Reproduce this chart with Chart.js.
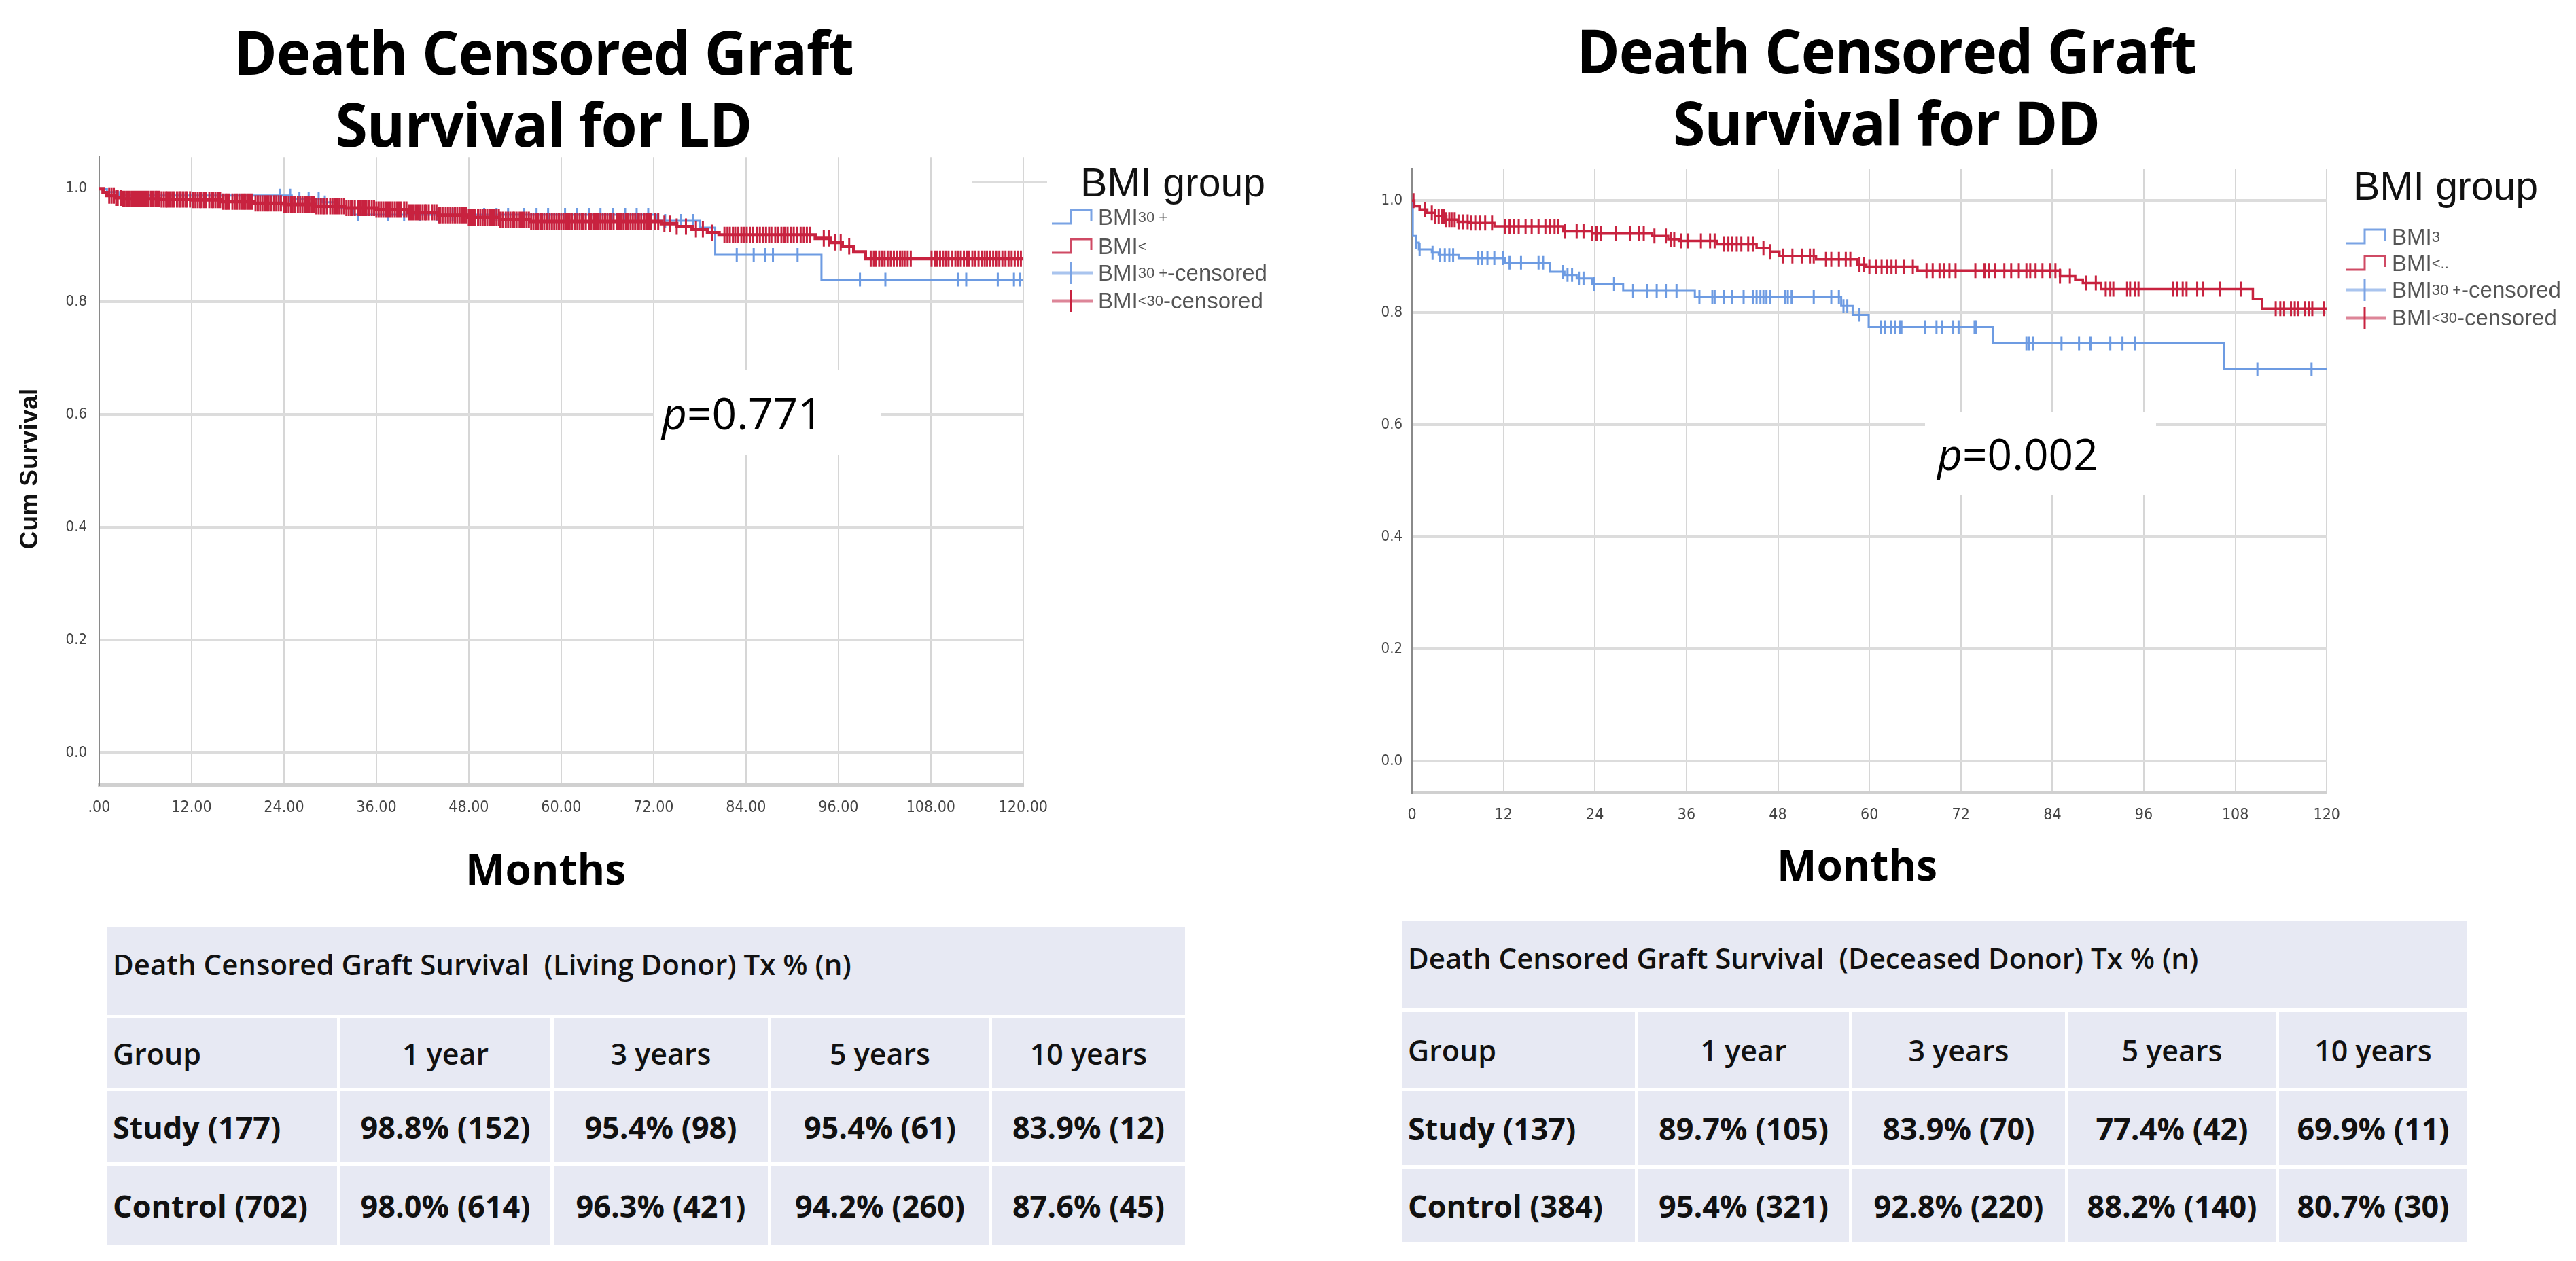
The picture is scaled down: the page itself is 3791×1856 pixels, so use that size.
<!DOCTYPE html>
<html>
<head>
<meta charset="utf-8">
<title>Death Censored Graft Survival by BMI group</title>
<script src="https://cdn.jsdelivr.net/npm/chart.js"></script>
<style>
    body {
        margin: 0;
        width: 3791px;
        height: 1856px;
        position: relative;
        overflow: hidden;
        background: #fff;
        font-family: 'Open Sans', sans-serif;
        color: #000;
    }
    canvas { position: absolute; }
    .title {
        position: absolute;
        width: 1100px;
        font-weight: 700;
        font-size: 90px;
        line-height: 106px;
        text-align: center;
        white-space: nowrap;
        letter-spacing: -1px;
        transform: scaleX(0.955);
    }
    .months {
        position: absolute;
        width: 400px;
        font-weight: 700;
        font-size: 62px;
        line-height: 62px;
        text-align: center;
    }
    .pbox {
        position: absolute;
        background: #fff;
        display: flex;
        align-items: center;
        font-size: 64px;
        white-space: nowrap;
    }
    .ytitle {
        position: absolute;
        width: 320px;
        height: 44px;
        line-height: 44px;
        text-align: center;
        font-family: 'Liberation Sans', Arial, sans-serif;
        font-weight: 700;
        font-size: 37px;
        color: #111;
        transform: rotate(-90deg);
    }
    .lgtitle {
        position: absolute;
        font-family: 'Liberation Sans', Arial, sans-serif;
        font-size: 59px;
        line-height: 59px;
        color: #111;
        white-space: nowrap;
    }
    .lgitem {
        position: absolute;
        height: 40px;
        display: flex;
        align-items: center;
        font-family: 'Liberation Sans', Arial, sans-serif;
        font-size: 33px;
        color: #555;
        white-space: nowrap;
    }
    .lgitem svg { margin-right: 8px; }
    .lgitem small { font-size: 22px; }
    .tbl {
        position: absolute;
        display: grid;
        gap: 5px;
        background: #fff;
    }
    .tbl div {
        background: #e7e9f3;
        display: flex;
        align-items: center;
        color: #111;
        white-space: pre;
    }
    .tbl .cap { grid-column: 1 / span 5; align-items: flex-start; padding: 25px 0 0 8px; font-size: 42px; font-weight: 600; }
    .tbl .hd { font-size: 43px; font-weight: 600; }
    .tbl .bd { font-size: 45px; font-weight: 700; }
    .tbl .c0 { justify-content: flex-start; padding-left: 8px; }
    .tbl .cn { justify-content: center; }
</style>
</head>
<body>

<div class="title" style="left:250px; top:22px;">Death Censored Graft<br>Survival for LD</div>
<div class="title" style="left:2226px; top:20px;">Death Censored Graft<br>Survival for DD</div>

<canvas id="ldChart" width="1562" height="1040" style="left:0px; top:200px;"></canvas>
<canvas id="ddChart" width="1534" height="1050" style="left:1930px; top:200px;"></canvas>

<div class="ytitle" style="left:-117px; top:668px;">Cum Survival</div>

<div class="pbox" style="left:962px; top:545px; width:323px; height:124px; padding-left:12px;"><i>p</i>=0.771</div>
<div class="pbox" style="left:2833px; top:606px; width:322px; height:122px; padding-left:18px;"><i>p</i>=0.002</div>

<div style="position:absolute; left:1430px; top:266px; width:111px; height:4px; background:#dcdcdc;"></div>

<div class="lgtitle" style="left:1590px; top:240px;">BMI group</div>
<div class="lgitem" style="left:1548px; top:300px;">
    <svg width="60" height="34"><polyline points="0,26 28,26 28,6 58,6 58,22" fill="none" stroke="#7aa3e4" stroke-width="3"/></svg>BMI<small>30 +</small></div>
<div class="lgitem" style="left:1548px; top:343px;">
    <svg width="60" height="34"><polyline points="0,26 28,26 28,6 58,6 58,22" fill="none" stroke="#cf4a64" stroke-width="3"/></svg>BMI<small>&lt;</small></div>
<div class="lgitem" style="left:1548px; top:382px;">
    <svg width="60" height="36"><line x1="0" y1="18" x2="60" y2="18" stroke="#a9c4ee" stroke-width="5"/><line x1="28" y1="2" x2="28" y2="34" stroke="#7aa3e4" stroke-width="3"/></svg>BMI<small>30 +</small>-censored</div>
<div class="lgitem" style="left:1548px; top:423px;">
    <svg width="60" height="36"><line x1="0" y1="18" x2="60" y2="18" stroke="#dd8598" stroke-width="5"/><line x1="28" y1="2" x2="28" y2="34" stroke="#c8223f" stroke-width="3"/></svg>BMI<small>&lt;30</small>-censored</div>

<div class="lgtitle" style="left:3463px; top:245px;">BMI group</div>
<div class="lgitem" style="left:3452px; top:329px;">
    <svg width="60" height="34"><polyline points="0,26 28,26 28,6 58,6 58,22" fill="none" stroke="#7aa3e4" stroke-width="3"/></svg>BMI<small>3</small></div>
<div class="lgitem" style="left:3452px; top:368px;">
    <svg width="60" height="34"><polyline points="0,26 28,26 28,6 58,6 58,22" fill="none" stroke="#cf4a64" stroke-width="3"/></svg>BMI<small>&lt;..</small></div>
<div class="lgitem" style="left:3452px; top:407px;">
    <svg width="60" height="36"><line x1="0" y1="18" x2="60" y2="18" stroke="#a9c4ee" stroke-width="5"/><line x1="28" y1="2" x2="28" y2="34" stroke="#7aa3e4" stroke-width="3"/></svg>BMI<small>30 +</small>-censored</div>
<div class="lgitem" style="left:3452px; top:448px;">
    <svg width="60" height="36"><line x1="0" y1="18" x2="60" y2="18" stroke="#dd8598" stroke-width="5"/><line x1="28" y1="2" x2="28" y2="34" stroke="#c8223f" stroke-width="3"/></svg>BMI<small>&lt;30</small>-censored</div>

<div class="months" style="left:603px; top:1247px;">Months</div>
<div class="months" style="left:2533px; top:1241px;">Months</div>

<div class="tbl" id="ldTable" style="left:158px; top:1365px; grid-template-columns:338px 309px 315px 320px 284px; grid-template-rows:129px 102px 105px 116px;"></div>
<div class="tbl" id="ddTable" style="left:2064px; top:1356px; grid-template-columns:342px 310px 313px 305px 277px; grid-template-rows:128px 112px 109px 108px;"></div>

<script>
    // axes
    const xTickValues = [0, 12, 24, 36, 48, 60, 72, 84, 96, 108, 120];
    const ldXTickLabels = ['.00', '12.00', '24.00', '36.00', '48.00', '60.00', '72.00', '84.00', '96.00', '108.00', '120.00'];
    const ddXTickLabels = ['0', '12', '24', '36', '48', '60', '72', '84', '96', '108', '120'];
    const yTickValues = [0, 0.2, 0.4, 0.6, 0.8, 1.0];
    const yTickLabels = ['0.0', '0.2', '0.4', '0.6', '0.8', '1.0'];

    // living donor, BMI 30+ (study)
    const ldStudyTime = [0, 1, 2.5, 25, 29, 31, 33, 72.5, 78, 80, 93.8, 120];
    const ldStudySurv = [1, 0.994, 0.988, 0.982, 0.976, 0.966, 0.954, 0.943, 0.931, 0.883, 0.839, 0.839];
    const ldStudyCensored = [23.5, 24.8, 26.0, 27.2, 28.5, 29.3, 33.6, 37.5, 39.6, 41.7, 43.8, 45.9, 50.0, 51.6,
        53.1, 55.2, 56.8, 58.3, 60.5, 62.0, 63.6, 65.1, 66.7, 68.3, 69.8, 71.3, 73.5, 75.5, 77.1, 82.8, 85.0,
        86.5, 87.5, 90.7, 98.8, 102.1, 111.5, 112.6, 116.7, 118.8, 119.6];

    // living donor, BMI <30 (control)
    const ldCtrlTime = [0, 0.5, 1, 2, 3, 8, 12, 16, 20, 24, 28, 32, 36, 40, 44, 48, 52, 56, 73, 75, 77, 79, 80.5,
        93, 95, 96.5, 98, 99.5, 120];
    const ldCtrlSurv = [1, 0.993, 0.988, 0.984, 0.982, 0.981, 0.980, 0.977, 0.974, 0.972, 0.969, 0.966, 0.963,
        0.958, 0.953, 0.949, 0.945, 0.942, 0.938, 0.933, 0.928, 0.922, 0.918, 0.912, 0.905, 0.898, 0.888, 0.876, 0.876];
    const ldCtrlCensored = [1.3, 1.6, 1.9, 2.2, 2.4, 2.8, 3.1, 3.3, 3.6, 3.9, 4.2, 4.5, 4.8, 5.0, 5.3, 5.6, 5.8,
        6.1, 6.4, 6.7, 7.0, 7.3, 7.5, 7.8, 8.1, 8.4, 8.7, 8.9, 9.2, 9.5, 9.7, 10.1, 10.4, 10.6, 10.9, 11.2, 11.4,
        11.8, 12.2, 12.5, 12.8, 13.1, 13.3, 13.6, 13.9, 14.3, 14.6, 14.8, 15.1, 15.4, 15.7, 16.1, 16.4, 16.6, 16.9,
        17.3, 17.6, 17.9, 18.2, 18.5, 18.8, 19.0, 19.3, 19.6, 19.9, 20.3, 20.6, 20.9, 21.2, 21.5, 21.8, 22.0, 22.3,
        22.7, 23.0, 23.3, 23.6, 24.0, 24.3, 24.6, 24.9, 25.1, 25.4, 25.8, 26.1, 26.4, 26.7, 27.0, 27.3, 27.6, 27.9,
        28.2, 28.5, 28.8, 29.1, 29.3, 29.6, 30.0, 30.3, 30.6, 30.9, 31.2, 31.5, 31.8, 32.1, 32.4, 32.7, 32.9, 33.2,
        33.6, 33.9, 34.2, 34.5, 34.7, 35.0, 35.4, 35.7, 36.0, 36.3, 36.6, 36.9, 37.2, 37.5, 37.8, 38.1, 38.4, 38.7,
        38.9, 39.2, 39.6, 39.9, 40.2, 40.5, 40.8, 41.1, 41.4, 41.7, 42.0, 42.3, 42.5, 42.8, 43.2, 43.5, 43.8, 44.1,
        44.3, 44.6, 45.0, 45.3, 45.6, 45.9, 46.2, 46.5, 46.8, 47.1, 47.4, 47.7, 48.0, 48.3, 48.5, 48.8, 49.2, 49.5,
        49.8, 50.1, 50.4, 50.7, 51.0, 51.3, 51.6, 51.9, 52.1, 52.4, 52.8, 53.1, 53.4, 53.7, 53.9, 54.2, 54.6, 54.9,
        55.2, 55.5, 55.8, 56.1, 56.4, 56.7, 57.0, 57.3, 57.5, 57.8, 58.2, 58.5, 58.8, 59.1, 59.4, 59.7, 60.0, 60.3,
        60.6, 60.9, 61.1, 61.4, 61.8, 62.1, 62.4, 62.7, 62.9, 63.2, 63.6, 63.9, 64.2, 64.5, 64.8, 65.1, 65.4, 65.7,
        66.0, 66.3, 66.5, 66.8, 67.2, 67.5, 67.8, 68.1, 68.4, 68.7, 69.0, 69.3, 69.6, 69.9, 70.1, 70.4, 70.8, 71.1,
        71.4, 71.7, 72.2, 72.6, 73.4, 74.1, 75.0, 76.2, 77.5, 78.4, 79.6, 81.2, 81.6, 81.9, 82.3, 82.6, 83.0, 83.4,
        83.7, 84.1, 84.5, 84.9, 85.4, 85.8, 86.2, 86.6, 87.0, 87.3, 87.8, 88.2, 88.6, 89.0, 89.4, 89.8, 90.2, 90.6,
        91.1, 91.5, 91.9, 92.3, 94.1, 94.8, 95.6, 96.3, 97.4, 100.2, 100.6, 100.9, 101.3, 101.7, 102.0, 102.4,
        102.8, 103.2, 103.6, 104.0, 104.3, 104.6, 105.0, 105.4, 108.1, 108.5, 108.8, 109.2, 109.6, 110.0, 110.3,
        110.8, 111.2, 111.5, 111.9, 112.3, 112.7, 113.0, 113.4, 113.8, 114.2, 114.6, 115.0, 115.3, 115.7, 116.1,
        116.5, 116.9, 117.3, 117.7, 118.1, 118.5, 118.9, 119.3, 119.7];

    // deceased donor, BMI 30+ (study)
    const ddStudyTime = [0, 0.1, 0.5, 0.9, 2.6, 3.5, 6.1, 12.2, 18.1, 20.0, 21.6, 23.6, 27.7, 37.1, 56.3, 57.8,
        59.9, 76.2, 106.5, 120];
    const ddStudySurv = [1, 0.937, 0.925, 0.913, 0.907, 0.903, 0.897, 0.889, 0.873, 0.867, 0.861, 0.851, 0.839,
        0.828, 0.812, 0.796, 0.774, 0.745, 0.699, 0.699];
    const ddStudyCensored = [0.5, 1.0, 2.7, 3.7, 4.3, 4.9, 5.4, 8.7, 9.2, 9.9, 10.8, 11.9, 12.8, 14.3, 16.6, 17.2,
        19.8, 20.4, 21.0, 21.9, 22.5, 23.9, 26.5, 29.0, 30.8, 32.1, 33.3, 34.7, 37.7, 39.4, 39.7, 40.9, 42.0, 43.5,
        44.7, 45.2, 45.7, 46.1, 46.5, 47.0, 48.9, 49.3, 49.8, 52.7, 55.0, 56.0, 56.6, 57.1, 58.7, 61.5, 62.0, 62.8,
        63.4, 64.0, 64.2, 67.3, 68.8, 69.5, 71.0, 71.7, 73.8, 74.0, 80.6, 80.9, 81.5, 85.2, 87.5, 89.0, 91.6, 93.2,
        94.8, 110.9, 118.0];

    // deceased donor, BMI <30 (control)
    const ddCtrlTime = [0, 0.3, 1, 2, 3, 4.5, 6, 7.5, 10.8, 19.8, 23.6, 31.5, 33.6, 35, 40, 45.2, 47, 48.2, 53,
        58.4, 59.6, 66.3, 85, 87, 88, 90.4, 110.3, 111.5, 120];
    const ddCtrlSurv = [1, 0.990, 0.984, 0.978, 0.972, 0.966, 0.962, 0.960, 0.954, 0.945, 0.941, 0.937, 0.931,
        0.928, 0.922, 0.915, 0.909, 0.901, 0.895, 0.886, 0.882, 0.875, 0.865, 0.859, 0.853, 0.842, 0.824, 0.807, 0.807];
    const ddCtrlCensored = [0.2, 1.7, 2.6, 3.0, 3.5, 3.9, 4.2, 4.5, 4.9, 5.2, 5.6, 6.1, 6.7, 7.3, 7.8, 8.3, 8.9,
        9.6, 10.5, 12.2, 12.8, 13.4, 14.0, 14.9, 15.7, 16.6, 17.5, 18.1, 18.7, 19.2, 20.1, 21.6, 22.5, 23.6, 24.2,
        24.8, 26.7, 28.6, 29.8, 30.4, 31.8, 33.3, 34.0, 34.4, 35.3, 36.2, 37.9, 39.1, 39.7, 40.9, 41.5, 42.0, 42.6,
        43.2, 44.1, 44.7, 46.1, 47.0, 48.7, 49.9, 51.2, 52.2, 52.7, 54.3, 55.0, 56.0, 56.9, 57.5, 58.7, 59.3, 60.0,
        60.9, 61.6, 62.3, 62.9, 63.5, 64.5, 65.7, 67.5, 68.3, 69.2, 69.8, 70.5, 71.3, 73.9, 75.1, 75.7, 76.5, 77.7,
        78.6, 79.6, 80.6, 81.1, 81.8, 82.7, 83.7, 84.4, 85.0, 86.3, 88.4, 89.7, 91.0, 91.6, 92.0, 93.8, 94.2, 94.8,
        95.3, 99.8, 100.4, 101.1, 101.6, 103.0, 103.8, 106.0, 108.7, 113.3, 113.9, 114.4, 115.3, 115.8, 116.2,
        117.1, 117.7, 118.1, 119.6];

    // tables
    const tableCols = ['Group', '1 year', '3 years', '5 years', '10 years'];
    const ldCaption = 'Death Censored Graft Survival  (Living Donor) Tx % (n)';
    const ldRows = [
        ['Study (177)', '98.8% (152)', '95.4% (98)', '95.4% (61)', '83.9% (12)'],
        ['Control (702)', '98.0% (614)', '96.3% (421)', '94.2% (260)', '87.6% (45)']
    ];
    const ddCaption = 'Death Censored Graft Survival  (Deceased Donor) Tx % (n)';
    const ddRows = [
        ['Study (137)', '89.7% (105)', '83.9% (70)', '77.4% (42)', '69.9% (11)'],
        ['Control (384)', '95.4% (321)', '92.8% (220)', '88.2% (140)', '80.7% (30)']
    ];

    const blue = '#6d9be2';
    const red = '#c8223f';

    function survAt(times, surv, t) {
        let s = surv[0];
        for (let i = 0; i < times.length; i++) {
            if (times[i] <= t) s = surv[i];
        }
        return s;
    }

    function curve(times, surv) {
        return times.map((t, i) => ({ x: t, y: surv[i] }));
    }

    function marks(times, surv, censored) {
        return censored.map(t => ({ x: t, y: survAt(times, surv, t) }));
    }

    function buildChart(canvas, opts) {
        return new Chart(canvas, {
            type: 'line',
            data: {
                datasets: [
                    {
                        data: marks(opts.ctrlTime, opts.ctrlSurv, opts.ctrlCensored),
                        showLine: false,
                        pointStyle: 'line',
                        rotation: 90,
                        pointRadius: opts.redTick,
                        pointBorderWidth: 3,
                        borderColor: red,
                        backgroundColor: red
                    },
                    {
                        data: curve(opts.ctrlTime, opts.ctrlSurv),
                        stepped: true,
                        borderColor: red,
                        borderWidth: opts.redWidth,
                        pointRadius: 0,
                        fill: false
                    },
                    {
                        data: marks(opts.studyTime, opts.studySurv, opts.studyCensored),
                        showLine: false,
                        pointStyle: 'line',
                        rotation: 90,
                        pointRadius: 10,
                        pointBorderWidth: 3,
                        borderColor: blue,
                        backgroundColor: blue
                    },
                    {
                        data: curve(opts.studyTime, opts.studySurv),
                        stepped: true,
                        borderColor: blue,
                        borderWidth: 3,
                        pointRadius: 0,
                        fill: false
                    }
                ]
            },
            options: {
                responsive: false,
                devicePixelRatio: 1,
                animation: false,
                layout: { padding: opts.padding },
                plugins: {
                    legend: { display: false },
                    tooltip: { enabled: false }
                },
                scales: {
                    x: {
                        type: 'linear',
                        min: 0,
                        max: 120,
                        afterBuildTicks: scale => { scale.ticks = xTickValues.map(v => ({ value: v })); },
                        afterFit: scale => { scale.height = opts.xHeight; },
                        ticks: {
                            padding: 20,
                            maxRotation: 0,
                            color: '#444',
                            font: { family: "'Liberation Sans Narrow', 'DejaVu Sans Condensed', sans-serif", size: 23 },
                            callback: (v, i) => opts.xLabels[i]
                        },
                        grid: { color: '#d6d6d6', lineWidth: 2, drawTicks: false },
                        border: { display: true, color: '#d0d0d0', width: 5 }
                    },
                    y: {
                        min: -0.056,
                        max: 1.056,
                        afterBuildTicks: scale => { scale.ticks = yTickValues.map(v => ({ value: v })); },
                        afterFit: scale => { scale.width = opts.yWidth; },
                        ticks: {
                            padding: opts.yPad,
                            color: '#444',
                            font: { family: "'Liberation Sans Narrow', 'DejaVu Sans Condensed', sans-serif", size: 22 },
                            callback: (v, i) => yTickLabels[i]
                        },
                        grid: {
                            color: c => (opts.hideTopGrid && c.tick && c.tick.value === 1) ? 'rgba(0,0,0,0)' : '#dcdcdc',
                            lineWidth: 4,
                            drawTicks: false
                        },
                        border: { display: true, color: '#8a8a8a', width: 2 }
                    }
                }
            }
        });
    }

    buildChart(document.getElementById('ldChart'), {
        studyTime: ldStudyTime, studySurv: ldStudySurv, studyCensored: ldStudyCensored,
        ctrlTime: ldCtrlTime, ctrlSurv: ldCtrlSurv, ctrlCensored: ldCtrlCensored,
        xLabels: ldXTickLabels,
        padding: { top: 22, right: 13, left: 0, bottom: 0 },
        xHeight: 85, yWidth: 146, yPad: 18,
        redTick: 12, redWidth: 5,
        hideTopGrid: true
    });

    buildChart(document.getElementById('ddChart'), {
        studyTime: ddStudyTime, studySurv: ddStudySurv, studyCensored: ddStudyCensored,
        ctrlTime: ddCtrlTime, ctrlSurv: ddCtrlSurv, ctrlCensored: ddCtrlCensored,
        xLabels: ddXTickLabels,
        padding: { top: 49, right: 10, left: 0, bottom: 0 },
        xHeight: 84, yWidth: 148, yPad: 14,
        redTick: 11, redWidth: 3.5,
        hideTopGrid: false
    });

    function fillTable(el, caption, rows) {
        let html = '<div class="cap">' + caption + '</div>';
        tableCols.forEach((c, i) => {
            html += '<div class="hd ' + (i === 0 ? 'c0' : 'cn') + '">' + c + '</div>';
        });
        rows.forEach(r => {
            r.forEach((c, i) => {
                html += '<div class="bd ' + (i === 0 ? 'c0' : 'cn') + '">' + c + '</div>';
            });
        });
        el.innerHTML = html;
    }

    fillTable(document.getElementById('ldTable'), ldCaption, ldRows);
    fillTable(document.getElementById('ddTable'), ddCaption, ddRows);
</script>
</body>
</html>
